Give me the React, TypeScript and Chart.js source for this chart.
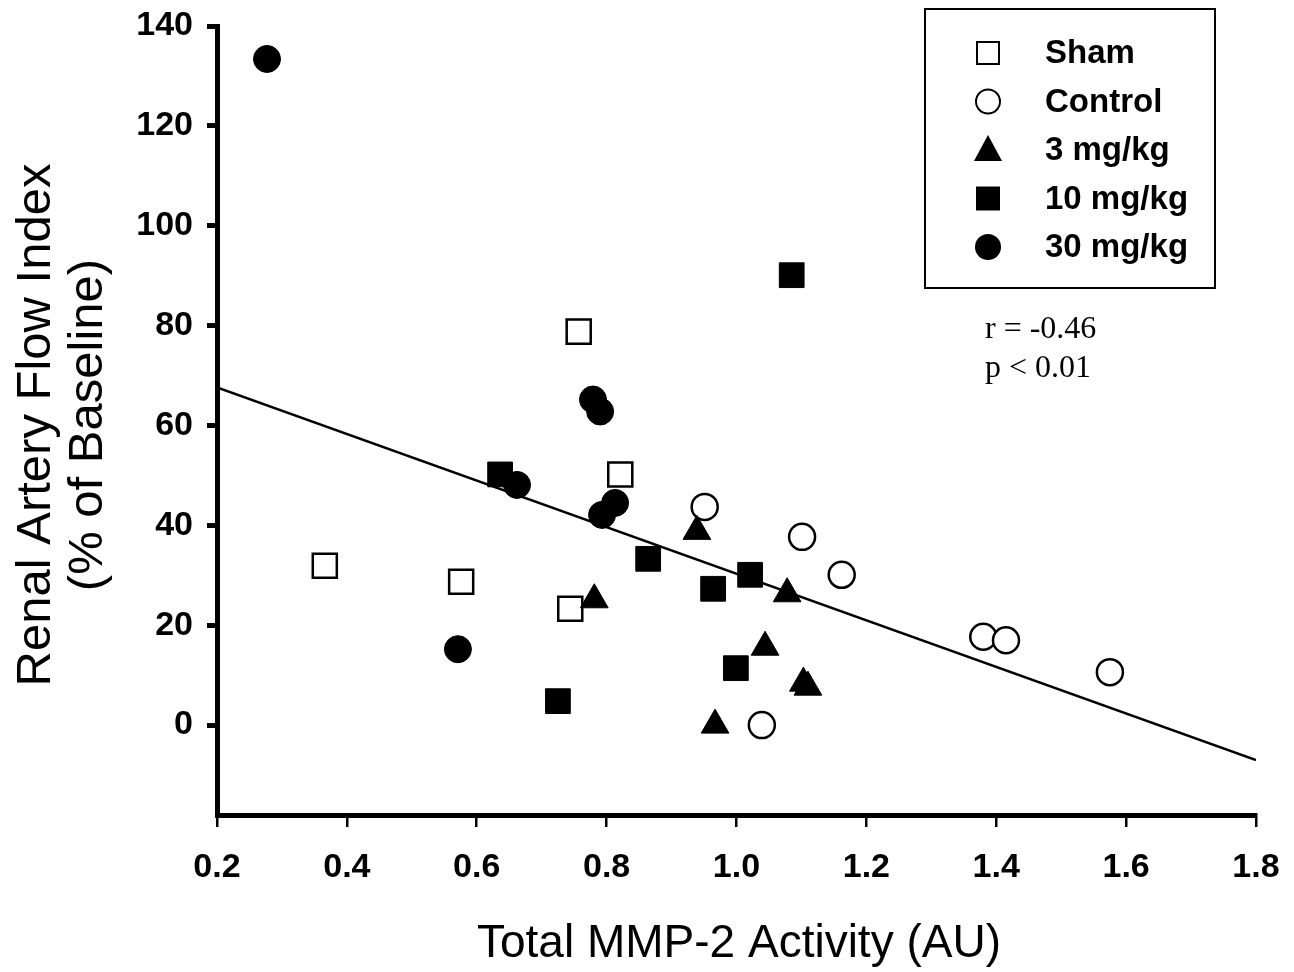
import React, { useEffect, useRef } from "react";
import { Chart, registerables } from "chart.js";

Chart.register(...registerables);

// ---- Data ----
const shamX = [0.366, 0.576, 0.744, 0.757, 0.821];
const shamY = [31.9, 28.7, 23.3, 78.8, 50.2];

const controlX = [0.951, 1.101, 1.162, 1.039, 1.38, 1.415, 1.575];
const controlY = [43.7, 37.7, 30.1, 0.0, 17.7, 17.0, 10.6];

const dose3X = [0.939, 0.781, 1.078, 1.044, 1.103, 1.11, 0.967];
const dose3Y = [38.8, 25.1, 26.3, 15.6, 8.4, 7.6, 0.0];

const dose10X = [0.636, 0.864, 0.964, 1.021, 0.999, 0.725, 1.085];
const dose10Y = [50.2, 33.3, 27.3, 30.1, 11.4, 4.8, 90.1];

const dose30X = [0.277, 0.779, 0.79, 0.662, 0.793, 0.813, 0.571];
const dose30Y = [133.4, 65.2, 62.8, 48.1, 42.1, 44.5, 15.2];

const fitX = [0.2, 1.8];
const fitY = [67.6, -7.0];

const legendLabels = ["Sham", "Control", "3 mg/kg", "10 mg/kg", "30 mg/kg"];
const statLines = ["r = -0.46", "p < 0.01"];
const xTitle = "Total MMP-2 Activity (AU)";
const yTitleLines = ["Renal Artery Flow Index", "(% of Baseline)"];

const toPoints = (xs: number[], ys: number[]) => xs.map((x, i) => ({ x, y: ys[i] }));

function drawSymbol(ctx: CanvasRenderingContext2D, kind: string, x: number, y: number) {
  ctx.save();
  ctx.lineWidth = 2;
  ctx.strokeStyle = "#000";
  ctx.fillStyle = "#000";
  ctx.beginPath();
  if (kind === "openSquare") {
    ctx.rect(x - 11, y - 11, 22, 22);
    ctx.fillStyle = "#fff";
    ctx.fill();
    ctx.stroke();
  } else if (kind === "openCircle") {
    ctx.arc(x, y, 12, 0, Math.PI * 2);
    ctx.fillStyle = "#fff";
    ctx.fill();
    ctx.stroke();
  } else if (kind === "triangle") {
    ctx.moveTo(x, y - 15);
    ctx.lineTo(x + 14, y + 11);
    ctx.lineTo(x - 14, y + 11);
    ctx.closePath();
    ctx.fill();
  } else if (kind === "square") {
    ctx.rect(x - 12, y - 12, 24, 24);
    ctx.fill();
  } else {
    ctx.arc(x, y, 13, 0, Math.PI * 2);
    ctx.fill();
  }
  ctx.restore();
}

const overlayPlugin = {
  id: "overlay",
  afterDraw(chart: any) {
    const ctx: CanvasRenderingContext2D = chart.ctx;
    ctx.save();
    ctx.fillStyle = "#000";
    // x title
    ctx.font = "46px 'Liberation Sans', Arial, sans-serif";
    ctx.textAlign = "left";
    ctx.textBaseline = "alphabetic";
    ctx.fillText(xTitle, 477, 957);
    // y title
    ctx.save();
    ctx.translate(0, 425);
    ctx.rotate(-Math.PI / 2);
    ctx.textAlign = "center";
    ctx.font = "49px 'Liberation Sans', Arial, sans-serif";
    ctx.textBaseline = "middle";
    ctx.fillText(yTitleLines[0], 0, 36);
    ctx.fillText(yTitleLines[1], 0, 88);
    ctx.restore();
    // legend box
    ctx.lineWidth = 2;
    ctx.strokeStyle = "#000";
    ctx.strokeRect(925, 9, 290, 279);
    const kinds = ["openSquare", "openCircle", "triangle", "square", "circle"];
    ctx.font = "bold 33px 'Liberation Sans', Arial, sans-serif";
    ctx.textAlign = "left";
    ctx.textBaseline = "middle";
    legendLabels.forEach((lab, i) => {
      const y = 53 + i * 48.5;
      drawSymbol(ctx, kinds[i], 988, y);
      ctx.fillText(lab, 1045, y + 1);
    });
    // stats
    ctx.font = "32px 'Liberation Serif', 'Times New Roman', serif";
    ctx.textAlign = "left";
    ctx.textBaseline = "alphabetic";
    ctx.fillText(statLines[0], 985, 338);
    ctx.fillText(statLines[1], 985, 377);
    ctx.restore();
  },
};

export default function App() {
  const ref = useRef<HTMLCanvasElement>(null);
  useEffect(() => {
    if (!ref.current) return;
    const common = { showLine: false };
    const chart = new Chart(ref.current, {
      type: "scatter",
      data: {
        datasets: [
          {
            ...common,
            label: legendLabels[0],
            data: toPoints(shamX, shamY),
            pointStyle: "rect",
            pointRadius: 17,
            backgroundColor: "#fff",
            borderColor: "#000",
            borderWidth: 2.5,
            order: 5,
          },
          {
            ...common,
            label: legendLabels[1],
            data: toPoints(controlX, controlY),
            pointStyle: "circle",
            pointRadius: 13,
            backgroundColor: "#fff",
            borderColor: "#000",
            borderWidth: 2.5,
            order: 4,
          },
          {
            ...common,
            label: legendLabels[2],
            data: toPoints(dose3X, dose3Y),
            pointStyle: "triangle",
            pointRadius: 16,
            backgroundColor: "#000",
            borderColor: "#000",
            borderWidth: 1,
            order: 3,
          },
          {
            ...common,
            label: legendLabels[3],
            data: toPoints(dose10X, dose10Y),
            pointStyle: "rect",
            pointRadius: 17.5,
            backgroundColor: "#000",
            borderColor: "#000",
            borderWidth: 1,
            order: 2,
          },
          {
            ...common,
            label: legendLabels[4],
            data: toPoints(dose30X, dose30Y),
            pointStyle: "circle",
            pointRadius: 13.5,
            backgroundColor: "#000",
            borderColor: "#000",
            borderWidth: 1,
            order: 1,
          },
          {
            type: "line",
            label: "fit",
            data: toPoints(fitX, fitY),
            borderColor: "#000",
            borderWidth: 2.5,
            pointRadius: 0,
            fill: false,
            order: 10,
          } as any,
        ],
      },
      options: {
        animation: false,
        responsive: true,
        maintainAspectRatio: false,
        events: [],
        layout: { padding: { left: 0, top: 26, right: 38, bottom: 0 } },
        plugins: {
          legend: { display: false },
          tooltip: { enabled: false },
          title: { display: false },
        },
        scales: {
          x: {
            type: "linear",
            min: 0.2,
            max: 1.8,
            afterFit: (scale: any) => {
              scale.height = 157;
              scale.paddingLeft = 0;
              scale.paddingRight = 0;
            },
            border: { display: true, color: "#000", width: 5 },
            grid: {
              display: true,
              drawOnChartArea: false,
              drawTicks: true,
              tickLength: 12,
              lineWidth: 2.5,
              color: "#000",
            },
            ticks: {
              stepSize: 0.2,
              padding: 20,
              color: "#000",
              font: { family: "'Liberation Sans', Arial, sans-serif", size: 34, weight: "bold" },
              callback: (v: any) => Number(v).toFixed(1),
              maxRotation: 0,
            },
          },
          y: {
            type: "linear",
            min: -18,
            max: 140,
            afterFit: (scale: any) => {
              scale.width = 217;
              scale.paddingTop = 0;
              scale.paddingBottom = 0;
            },
            afterBuildTicks: (scale: any) => {
              scale.ticks = scale.ticks.filter((t: any) => Math.round(t.value) % 20 === 0);
            },
            border: { display: true, color: "#000", width: 5 },
            grid: {
              display: true,
              drawOnChartArea: false,
              drawTicks: true,
              tickLength: 10,
              lineWidth: 5,
              color: "#000",
            },
            ticks: {
              stepSize: 20,
              padding: 14,
              color: "#000",
              font: { family: "'Liberation Sans', Arial, sans-serif", size: 34, weight: "bold" },
            },
          },
        },
      },
      plugins: [overlayPlugin],
    });
    return () => chart.destroy();
  }, []);

  return (
    <div style={{ position: "absolute", left: 0, top: 0, width: 1294, height: 972, background: "#fff" }}>
      <canvas ref={ref} />
    </div>
  );
}
